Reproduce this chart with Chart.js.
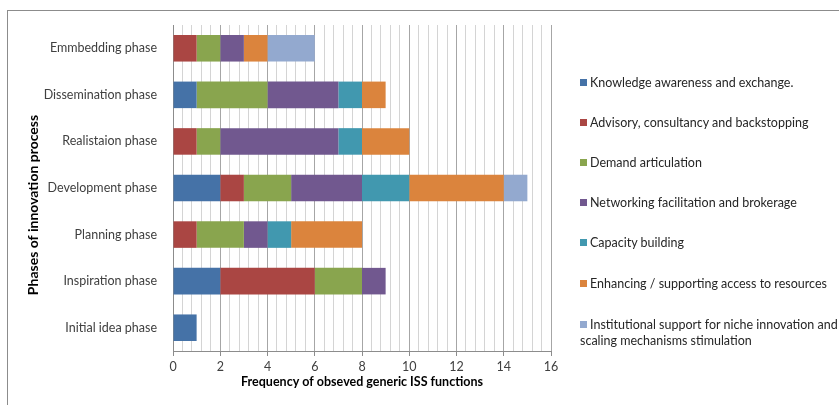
<!DOCTYPE html>
<html>
<head>
<meta charset="utf-8">
<script src="https://cdn.jsdelivr.net/npm/chart.js@4"></script>
<style>
  body { margin: 0; background: #fff; font-family: Lato, sans-serif; }
  #wrap { position: relative; width: 839px; height: 405px; overflow: hidden; }
  #frame { position: absolute; left: 7px; top: 10px; width: 900px; height: 500px; border: 1px solid #8c8c8c; }
  #chart { position: absolute; left: 0; top: 0; }
  #legend { position: absolute; left: 580px; top: 0; font-size: 12.5px; color: #262626; }
  .item { position: absolute; left: 0; white-space: nowrap; line-height: 16px; }
  .item span { display: inline-block; width: 7px; height: 7px; margin-right: 3px; vertical-align: 1px; }
</style>
</head>
<body>
<div id="wrap">
  <div id="frame"></div>
  <canvas id="chart" width="839" height="405"></canvas>
  <div id="legend"></div>
</div>
<script>
const phases = ['Emmbedding phase', 'Dissemination phase', 'Realistaion phase', 'Development phase',
                'Planning phase', 'Inspiration phase', 'Initial idea phase'];

const functionNames = ['Knowledge awareness and exchange.', 'Advisory, consultancy and backstopping',
                       'Demand articulation', 'Networking facilitation and brokerage', 'Capacity building',
                       'Enhancing / supporting access to resources',
                       'Institutional support for niche innovation and scaling mechanisms stimulation'];

// values per phase, in the order of phases above
const knowledge   = [0, 1, 0, 2, 0, 2, 1];
const advisory    = [1, 0, 1, 1, 1, 4, 0];
const demand      = [1, 3, 1, 2, 2, 2, 0];
const networking  = [1, 3, 5, 3, 1, 1, 0];
const capacity    = [0, 1, 1, 2, 1, 0, 0];
const enhancing   = [1, 1, 2, 4, 3, 0, 0];
const institution = [2, 0, 0, 1, 0, 0, 0];

const seriesValues = [knowledge, advisory, demand, networking, capacity, enhancing, institution];
const colors = ['#4572A7', '#AA4643', '#89A54E', '#71588F', '#4198AF', '#DB843D', '#93A9CF'];

const plotLeft = 173, plotRight = 551, plotTop = 25, plotBottom = 351;

const titlesPlugin = {
    id: 'axisTitles',
    afterDraw(chart) {
        const c = chart.ctx;
        c.save();
        c.fillStyle = '#000';
        c.textAlign = 'center';
        c.textBaseline = 'middle';
        c.font = 'bold 12.5px Lato';
        c.fillText('Frequency of obseved generic ISS functions', (plotLeft + plotRight) / 2, 382);
        c.font = 'bold 14px Lato';
        c.translate(33, 205);
        c.rotate(-Math.PI / 2);
        c.fillText('Phases of innovation process', 0, 0);
        c.restore();
    }
};

const isMajor = (v) => Math.abs(v - Math.round(v)) < 1e-6 && Math.round(v) % 2 === 0;

new Chart(document.getElementById('chart'), {
    type: 'bar',
    data: {
        labels: phases,
        datasets: seriesValues.map((vals, i) => ({
            label: functionNames[i],
            data: vals.map(v => v === 0 ? null : v),
            backgroundColor: colors[i],
            borderWidth: 0,
            categoryPercentage: 1,
            barPercentage: 0.57
        }))
    },
    options: {
        indexAxis: 'y',
        responsive: false,
        animation: false,
        layout: { padding: { left: 0, top: plotTop, right: 839 - plotRight, bottom: 0 } },
        plugins: { legend: { display: false }, tooltip: { enabled: false } },
        scales: {
            x: {
                stacked: true,
                min: 0,
                max: 16,
                ticks: {
                    stepSize: 0.4,
                    autoSkip: false,
                    maxRotation: 0,
                    padding: 3,
                    color: '#404040',
                    font: { family: 'Lato', size: 12.5 },
                    callback: (v) => isMajor(v) ? String(Math.round(v)) : ''
                },
                grid: {
                    color: (ctx) => isMajor(ctx.tick.value) ? '#a6a6a6' : '#d4d4d4',
                    tickColor: (ctx) => isMajor(ctx.tick.value) ? '#8c8c8c' : 'rgba(0,0,0,0)',
                    tickLength: 5
                },
                border: { color: '#8c8c8c' },
                afterFit: (s) => { s.height = 405 - plotBottom; }
            },
            y: {
                stacked: true,
                ticks: {
                    padding: 16,
                    color: '#404040',
                    font: { family: 'Lato', size: 12.5 }
                },
                grid: { display: false, drawTicks: false },
                border: { color: '#8c8c8c' },
                afterFit: (s) => { s.width = plotLeft; }
            }
        }
    },
    plugins: [titlesPlugin]
});

// legend to the right
const legendY = [82.7, 122.7, 162.7, 203.3, 243.3, 284, 325];
const legend = document.getElementById('legend');
functionNames.forEach((name, i) => {
    const d = document.createElement('div');
    d.className = 'item';
    d.style.top = (legendY[i] - 8) + 'px';
    if (i === 6) {
        d.innerHTML = '<span style="background:' + colors[i] + '"></span>Institutional support for niche innovation and<br>scaling mechanisms stimulation';
    } else {
        d.innerHTML = '<span style="background:' + colors[i] + '"></span>' + name;
    }
    legend.appendChild(d);
});
</script>
</body>
</html>
